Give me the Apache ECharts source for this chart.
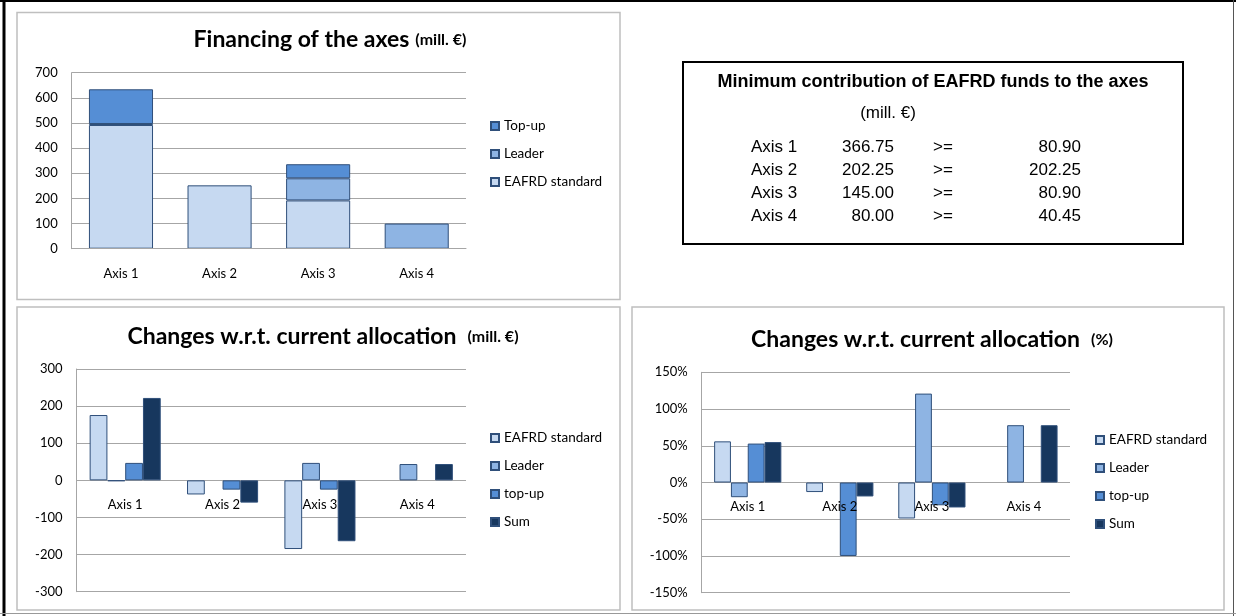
<!DOCTYPE html>
<html>
<head>
<meta charset="UTF-8">
<title>Financing of the axes</title>
<script src="https://cdn.jsdelivr.net/npm/echarts@6/dist/echarts.min.js"></script>
<style>
html, body { margin: 0; padding: 0; background: #fff; }
#main { width: 1236px; height: 616px; }
</style>
</head>
<body>
<div id="main"></div>
<script>
var axes = ['Axis 1', 'Axis 2', 'Axis 3', 'Axis 4'];

// financing of the axes (mill. €), stacked
var finEafrd = [492, 252, 192, null];
var finLeader = [4, null, 88, 100];
var finTopup = [138, null, 56, null];

// changes w.r.t. current allocation (mill. €)
var chgEafrd = [176, -38, -185, null];
var chgLeader = [-2, null, 47, 44];
var chgTopup = [47, -25, -25, null];
var chgSum = [222, -60, -164, 44];

// changes w.r.t. current allocation (%)
var pctEafrd = [56, -13, -49, null];
var pctLeader = [-20, null, 121, 78];
var pctTopup = [53, -100, -31, null];
var pctSum = [55, -19, -34, 78];

// minimum contribution table
var minAxes = ['Axis 1', 'Axis 2', 'Axis 3', 'Axis 4'];
var minPlanned = ['366.75', '202.25', '145.00', '80.00'];
var minRequired = ['80.90', '202.25', '80.90', '40.45'];

var FONT = 'Lato, "Noto Sans", sans-serif';
var ARIAL = '"Liberation Sans", Arial, sans-serif';
var cEafrd = '#C6D9F1', cLeader = '#8EB4E3', cTopup = '#558ED5', cSum = '#17375E';
var cEdge = '#2F4F7A';
var cGrid = '#A6A6A6';

function bar(name, data, color, idx, stack, gap) {
	return {
		name: name,
		type: 'bar',
		xAxisIndex: idx,
		yAxisIndex: idx,
		stack: stack,
		data: data,
		barGap: '0%',
		barCategoryGap: gap,
		itemStyle: { color: color, borderColor: cEdge, borderWidth: 1 },
		emphasis: { disabled: true }
	};
}

// offset pulls the category axis up onto the zero line of the value axis,
// z keeps its labels above the bars as in the original
function catAxis(idx, margin, offset, line) {
	return {
		type: 'category',
		gridIndex: idx,
		data: axes,
		position: 'bottom',
		offset: offset,
		z: 5,
		axisLine: { show: line, onZero: false, lineStyle: { color: cGrid } },
		axisTick: { show: false },
		axisLabel: { margin: margin, color: '#000', fontSize: 13, fontFamily: FONT }
	};
}

function valAxis(idx, min, max, step, fmt) {
	return {
		type: 'value',
		gridIndex: idx,
		min: min, max: max, interval: step,
		axisLine: { show: true, lineStyle: { color: cGrid } },
		axisTick: { show: false },
		splitLine: { lineStyle: { color: cGrid } },
		axisLabel: { margin: 14, color: '#000', fontSize: 13, fontFamily: FONT, formatter: fmt }
	};
}

function legend(names, x, y) {
	return {
		data: names,
		orient: 'vertical',
		left: x, top: y,
		padding: 0,
		icon: 'rect',
		itemWidth: 8, itemHeight: 8, itemGap: 14,
		selectedMode: false,
		textStyle: { color: '#000', fontSize: 13.5, lineHeight: 14, fontFamily: FONT }
	};
}

function title(main, unit, x, y, pad) {
	return {
		text: '{a|' + main + '}{b|' + unit + '}',
		left: x, top: y, textAlign: 'center',
		textStyle: {
			rich: {
				a: { fontSize: 23, fontWeight: 'bold', fontFamily: FONT, color: '#000' },
				b: { fontSize: 16, fontWeight: 'bold', fontFamily: FONT, color: '#000', padding: [0, 0, 0, pad] }
			}
		}
	};
}

// frame, panels and the table box
var graphics = [
	{ type: 'line', shape: { x1: 4, y1: 0, x2: 4, y2: 616 }, style: { stroke: '#000', lineWidth: 3 } },
	{ type: 'line', shape: { x1: 0, y1: 1, x2: 1236, y2: 1 }, style: { stroke: '#000', lineWidth: 2 } },
	{ type: 'line', shape: { x1: 1233.5, y1: 0, x2: 1233.5, y2: 616 }, style: { stroke: '#555', lineWidth: 1 } },
	{ type: 'line', shape: { x1: 0, y1: 613.5, x2: 1236, y2: 613.5 }, style: { stroke: '#999', lineWidth: 1 } },
	{ type: 'rect', shape: { x: 17, y: 12.5, width: 603, height: 287 }, style: { fill: 'none', stroke: '#BFBFBF', lineWidth: 1.5 } },
	{ type: 'rect', shape: { x: 17, y: 307, width: 603, height: 303 }, style: { fill: 'none', stroke: '#BFBFBF', lineWidth: 1.5 } },
	{ type: 'rect', shape: { x: 632, y: 307, width: 592, height: 303 }, style: { fill: 'none', stroke: '#BFBFBF', lineWidth: 1.5 } },
	{ type: 'rect', shape: { x: 683, y: 62, width: 500, height: 182 }, style: { fill: 'none', stroke: '#000', lineWidth: 2 } },
	{ type: 'text', x: 933, y: 82, style: { text: 'Minimum contribution of EAFRD funds to the axes', align: 'center', verticalAlign: 'middle', fontSize: 18, fontWeight: 'bold', fontFamily: ARIAL, fill: '#000' } },
	{ type: 'text', x: 888, y: 113, style: { text: '(mill. €)', align: 'center', verticalAlign: 'middle', fontSize: 17, fontFamily: ARIAL, fill: '#000' } }
];
var rowY = [147, 170, 193, 216];
for (var i = 0; i < minAxes.length; i++) {
	graphics.push({ type: 'text', x: 751, y: rowY[i], style: { text: minAxes[i], align: 'left', verticalAlign: 'middle', fontSize: 17, fontFamily: ARIAL, fill: '#000' } });
	graphics.push({ type: 'text', x: 894, y: rowY[i], style: { text: minPlanned[i], align: 'right', verticalAlign: 'middle', fontSize: 17, fontFamily: ARIAL, fill: '#000' } });
	graphics.push({ type: 'text', x: 933, y: rowY[i], style: { text: '>=', align: 'left', verticalAlign: 'middle', fontSize: 17, fontFamily: ARIAL, fill: '#000' } });
	graphics.push({ type: 'text', x: 1081, y: rowY[i], style: { text: minRequired[i], align: 'right', verticalAlign: 'middle', fontSize: 17, fontFamily: ARIAL, fill: '#000' } });
}

var option = {
	animation: false,
	backgroundColor: '#fff',
	title: [
		title('Financing of the axes', '(mill. €)', 325, 23, 6),
		title('Changes w.r.t. current allocation', '(mill. €)', 318, 320, 11),
		title('Changes w.r.t. current allocation', '(%)', 927, 323, 11)
	],
	legend: [
		legend(['Top-up', 'Leader', 'EAFRD standard'], 490, 119),
		legend(['EAFRD standard', 'Leader', 'top-up', 'Sum'], 490, 431),
		legend(['EAFRD standard', 'Leader', 'top-up', 'Sum'], 1095, 433)
	],
	grid: [
		{ left: 71.7, top: 72.7, width: 394.3, height: 176, outerBoundsMode: 'none' },
		{ left: 76.5, top: 369, width: 389.5, height: 222.7, outerBoundsMode: 'none' },
		{ left: 701.7, top: 372.3, width: 368.3, height: 220.4, outerBoundsMode: 'none' }
	],
	xAxis: [catAxis(0, 19, 0, true), catAxis(1, 18, -111.35, false), catAxis(2, 18, -110.2, false)],
	yAxis: [
		valAxis(0, 0, 700, 100),
		valAxis(1, -300, 300, 100),
		valAxis(2, -150, 150, 50, '{value}%')
	],
	graphic: graphics,
	series: [
		bar('EAFRD standard', finEafrd, cEafrd, 0, 'fin', '35%'),
		bar('Leader', finLeader, cLeader, 0, 'fin', '35%'),
		bar('Top-up', finTopup, cTopup, 0, 'fin', '35%'),

		bar('EAFRD standard', chgEafrd, cEafrd, 1, null, '27%'),
		bar('Leader', chgLeader, cLeader, 1, null, '27%'),
		bar('top-up', chgTopup, cTopup, 1, null, '27%'),
		bar('Sum', chgSum, cSum, 1, null, '27%'),

		bar('EAFRD standard', pctEafrd, cEafrd, 2, null, '27%'),
		bar('Leader', pctLeader, cLeader, 2, null, '27%'),
		bar('top-up', pctTopup, cTopup, 2, null, '27%'),
		bar('Sum', pctSum, cSum, 2, null, '27%')
	]
};

var chart = echarts.init(document.getElementById('main'));
chart.setOption(option);
</script>
</body>
</html>
